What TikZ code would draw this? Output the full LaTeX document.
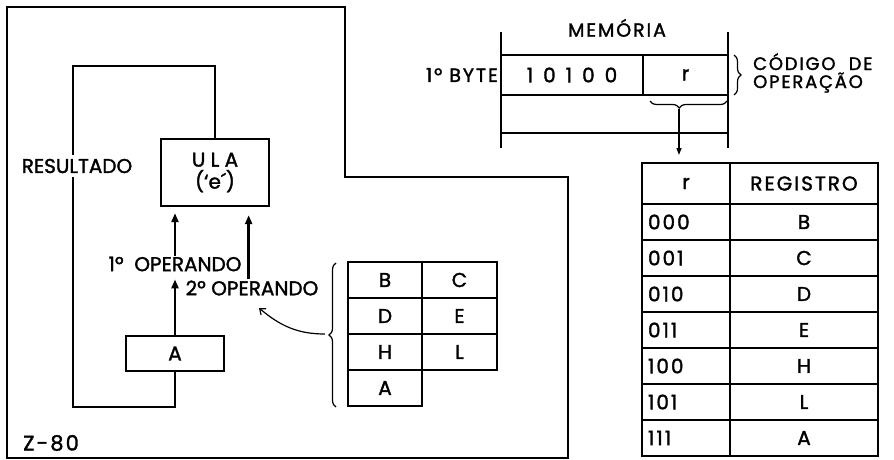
\documentclass[tikz,border=0pt]{standalone}
\usepackage{fontspec}
\setmainfont{Poppins}[FakeBold=1.6]
\newfontfamily\spacedfont{Poppins}[LetterSpace=10, FakeBold=1.6]
\usetikzlibrary{arrows.meta, positioning, decorations.pathreplacing}

\begin{document}
\begin{tikzpicture}[
    x=1pt, y=1pt,
    every node/.style={font=\fontsize{20}{22}\selectfont, inner sep=1pt},
    cell/.style={draw, line width=2pt, outer sep=0pt, minimum height=36pt},
    box/.style={draw, line width=2.4pt},
    arr/.style={-{Triangle[length=9pt, width=7pt]}, line width=2.4pt},
    thinarr/.style={-{Triangle[length=7pt, width=5pt]}, line width=1.3pt},
    curvarr/.style={-{Straight Barb[length=5pt, width=8pt]}, line width=1.2pt},
    brc/.style={decorate, decoration={brace, amplitude=7pt}, line width=1.2pt}
]
\useasboundingbox (0,0) rectangle (894,-460);

% === Z-80 border ===
\draw[line width=2.4pt] (7,-7) -- (345,-7) -- (345,-177) -- (568,-177)
    -- (568,-458) -- (7,-458) -- cycle;
\node[anchor=west, font=\fontsize{21}{23}\spacedfont] (z80) at (22,-443) {Z-80};

% === ULA and accumulator ===
\node[box, minimum width=108pt, minimum height=67pt, align=center,
      font=\fontsize{20}{22}\selectfont] (ula) at (215,-172.5)
    {U L A\\(‘e´)};
\node[box, minimum width=98pt, minimum height=35pt] (acc) at (175,-353.5) {A};

% === result loop ===
\coordinate (loopTL) at (73,-66);
\coordinate (loopBL) at (73,-407);
\draw[line width=2.4pt] (ula.north) |- (loopTL) -- (loopBL) -| (acc.south);
\node[fill=white, inner xsep=2pt, inner ysep=4pt] (res) at (77,-166) {RESULTADO};

% === operands ===
\node (op1) at (175,-264) {1º\ \ OPERANDO};
\node (op2) at (252,-288) {2º OPERANDO};
\draw[arr, shorten >=6pt] (op1.north -| acc.north) -- (ula.south -| acc.north);
\draw[arr] (acc.north) -- (acc.north |- op2.north);
\draw[arr, shorten >=8pt] ([xshift=6pt]op2.north -| op1.east) -- ([xshift=6pt]ula.south -| op1.east);

% === register file ===
\foreach \l/\r [count=\i] in {B/C, D/E, H/L} {
    \node[cell, minimum width=74pt] (rl\i) at (385,{-280-36*(\i-1)}) {\l};
    \node[cell, minimum width=75pt, right=0pt of rl\i] (rr\i) {\r};
}
\node[cell, minimum width=74pt, below=0pt of rl3] (rl4) {A};
\draw[brc] (336,-407) -- (336,-263);
\coordinate (regtip) at (325,-334);
\coordinate (optip) at (259,-308);
\draw[curvarr] (regtip) to[out=180, in=-40] (optip);

% === memory ===
\node[anchor=south, font=\fontsize{19}{21}\spacedfont] (mem) at (617,-38) {MEMÓRIA};
\draw[line width=2.2pt] (501,-32) -- (501,-148);
\draw[line width=2.2pt] (728,-32) -- (728,-148);
\node[cell, minimum width=142pt, minimum height=40pt] (bits) at (572,-75)
    {1\hspace{10pt}0\hspace{10pt}1\hspace{10pt}0\hspace{10pt}0};
\node[cell, minimum width=85pt, minimum height=40pt] (rfld) at (685.5,-75) {r};
\draw[line width=2pt] (501,-133) -- (728,-133);
\node[anchor=east, font=\fontsize{19}{21}\spacedfont] (byte) at ([xshift=-2pt]bits.west) {1º BYTE};
\draw[brc] (734,-55) -- (734,-95);
\node[anchor=west, align=left, font=\fontsize{18}{18}\spacedfont] (opcode) at (752,-73)
    {CÓDIGO\ \ DE\\OPERAÇÃO};
\draw[brc, decoration={aspect=0.62}] (727,-101) -- (650,-101);
\coordinate (rtip) at (679,-109);

% === code table ===
\node[cell, minimum width=88pt, minimum height=41pt] (code0) at (686,-183.5) {r};
\node[cell, minimum width=148pt, minimum height=41pt, right=0pt of code0,
      font=\fontsize{20}{22}\spacedfont] (reg0) {REGISTRO};
\foreach \c/\g [count=\i] in {000/B, 001/C, 010/D, 011/E, 100/H, 101/L, 111/A} {
    \node[cell, minimum width=88pt, text width=76pt, inner xsep=6pt, align=left,
          font=\fontsize{20}{22}\spacedfont] (code\i) at (686,{-222-36*(\i-1)}) {\c};
    \node[cell, minimum width=148pt, right=0pt of code\i] (reg\i) {\g};
}
\draw[thinarr, shorten >=8pt] (rtip) -- (rtip |- code0.north);

\end{tikzpicture}
\end{document}
